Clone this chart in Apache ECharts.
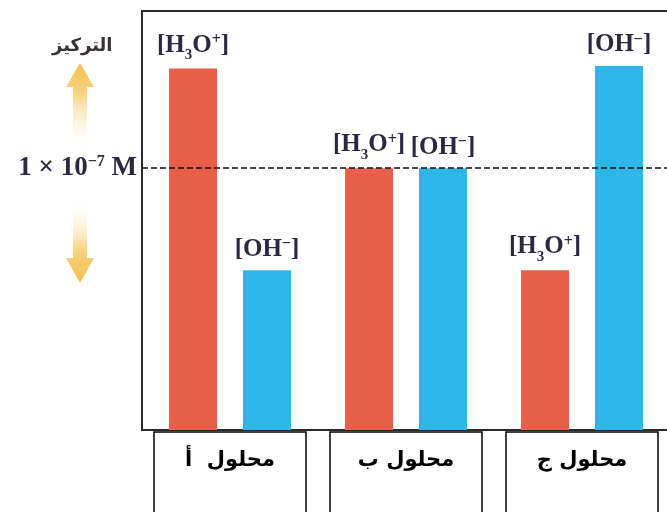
<!DOCTYPE html>
<html><head><meta charset="utf-8">
<script src="https://cdn.jsdelivr.net/npm/echarts@6/dist/echarts.min.js"></script>
<style>html,body{margin:0;padding:0;background:#fff}#c{width:667px;height:512px}</style>
</head><body><div id="c"></div>
<script>
const categories = ['محلول  أ', 'محلول ب', 'محلول ج'];
const h3oValues = [1.38, 1.0, 0.61];
const ohValues = [0.61, 1.0, 1.39];
const refLevel = 1.0;
const yMax = 1.6;
const yAxisTitle = 'التركيز';

const ink = '#2b2842';
const serif = 'Liberation Serif';
const base = {fontFamily: serif, fontWeight: 'bold', fontSize: 25, color: ink, lineHeight: 30};
const labelRich = {
  b: base,
  sub: {fontFamily: serif, fontWeight: 'bold', fontSize: 15, color: ink, padding: [20, 0, 0, 0]},
  sup: {fontFamily: serif, fontWeight: 'bold', fontSize: 16, color: ink, padding: [0, 0, 10, 0]}
};
const h3oText = '{b|[H}{sub|3}{b|O}{sup|+}{b|]}';
const ohText = '{b|[OH}{sup|−}{b|]}';

const chart = echarts.init(document.getElementById('c'), null, {renderer: 'canvas'});
chart.setOption({
  animation: false,
  backgroundColor: '#fff',
  grid: {left: 142, right: -3, top: 11, bottom: 82, outerBoundsMode: 'none', containLabel: false,
         show: true, borderColor: '#2a2a2a', borderWidth: 2, backgroundColor: 'transparent'},
  xAxis: {
    type: 'category', data: categories,
    axisLine: {show: false}, axisTick: {show: false}, splitLine: {show: false},
    axisLabel: {
      interval: 0, margin: 2,
      fontFamily: 'DejaVu Sans', fontWeight: 'bold', fontSize: 21, color: '#000',
      lineHeight: 30, width: 152, overflow: 'none', align: 'center', verticalAlign: 'top',
      padding: [14, 0, 40, 0],
      borderColor: '#000', borderWidth: 1.5
    }
  },
  yAxis: {
    type: 'value', min: 0, max: yMax, interval: 0.5,
    axisLine: {show: false}, axisTick: {show: false}, splitLine: {show: false},
    axisLabel: {
      margin: 5,
      formatter: (v) => Math.abs(v - refLevel) < 1e-9 ? '{n|1 × 10}{s|−7}{n| M}' : '',
      rich: {
        n: {fontFamily: serif, fontWeight: 'bold', fontSize: 27, color: ink, lineHeight: 30},
        s: {fontFamily: serif, fontWeight: 'bold', fontSize: 16, color: ink, padding: [0, 0, 12, 0]}
      }
    }
  },
  series: [
    {
      type: 'bar', name: 'H3O+', data: h3oValues, barWidth: 48, barGap: '54%',
      itemStyle: {color: '#E8604A'},
      label: {show: true, position: 'top', distance: 6, formatter: h3oText, rich: labelRich},
      markLine: {
        silent: true, symbol: 'none',
        label: {show: false},
        lineStyle: {color: '#111', width: 1.5, type: [6, 3]},
        data: [{yAxis: refLevel}]
      }
    },
    {
      type: 'bar', name: 'OH-', data: ohValues, barWidth: 48,
      itemStyle: {color: '#2DB7E9'},
      label: {show: true, position: 'top', distance: 6, formatter: ohText, rich: labelRich}
    }
  ],
  graphic: [
    {
      type: 'polygon',
      shape: {points: [[80, 63], [94, 87], [87, 87], [87, 146], [73, 146], [73, 87], [66, 87]]},
      style: {fill: new echarts.graphic.LinearGradient(0, 0, 0, 1, [
        {offset: 0, color: '#F5BF4F'}, {offset: 0.35, color: '#F8D27E'}, {offset: 1, color: 'rgba(255,245,225,0)'}
      ])}
    },
    {
      type: 'polygon',
      shape: {points: [[73, 204], [87, 204], [87, 258], [94, 258], [80, 283], [66, 258], [73, 258]]},
      style: {fill: new echarts.graphic.LinearGradient(0, 0, 0, 1, [
        {offset: 0, color: 'rgba(255,245,225,0)'}, {offset: 0.6, color: '#F8D27E'}, {offset: 1, color: '#F5BF4F'}
      ])}
    },
    {
      type: 'text', left: 52, top: 37,
      style: {text: yAxisTitle, font: 'bold 18px "DejaVu Sans"', fill: '#3a3333'}
    }
  ]
});
</script></body></html>
